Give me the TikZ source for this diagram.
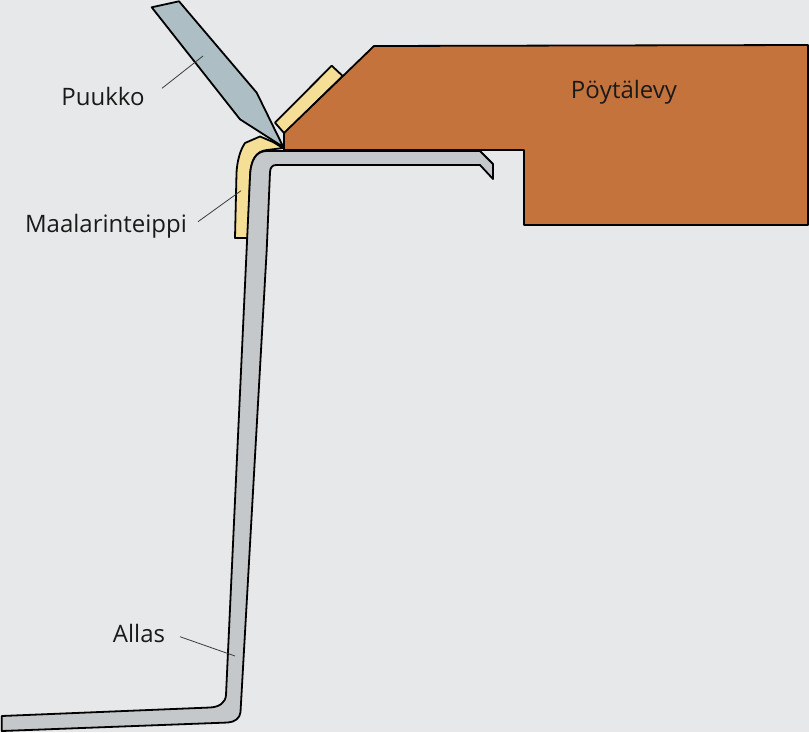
\documentclass[tikz,border=0pt]{standalone}
\usepackage{fontspec}
\setmainfont{Open Sans}
\definecolor{bgc}{HTML}{E6E8EA}
\definecolor{knifec}{HTML}{AEBEC5}
\definecolor{tapec}{HTML}{F5DF96}
\definecolor{woodc}{HTML}{C4733D}
\definecolor{sinkc}{HTML}{C5C8CA}
\definecolor{inkc}{HTML}{1A1A1A}
\tikzset{
  part/.style={draw=black,line width=1.35pt,line join=round},
  leader/.style={draw=inkc!85,line width=0.6pt},
  lab/.style={font=\fontsize{18}{22}\selectfont,text=inkc,inner sep=0pt,anchor=center}
}
\begin{document}
\begin{tikzpicture}[x=0.75pt,y=-0.75pt]
\fill[bgc] (0,0) rectangle (809,732);
\useasboundingbox (0,0) rectangle (809,732);
% left tape
\path[part,fill=tapec] (235,238) -- (248,238) -- (250,177) .. controls (250.5,160) and (256,151) .. (267,150)
  -- (283,148) -- (273,142) -- (260,136.5) -- (245,143) .. controls (240,150) and (237,162) .. (236.5,173) -- cycle;
% sink
\path[part,fill=sinkc] (480,151) -- (267,151) .. controls (256,151) and (250.5,160) .. (250,177)
  -- (226,695) .. controls (225.5,703) and (219,707) .. (210,707.5)
  -- (1.7,716) -- (1.7,731) -- (228,722.5) .. controls (235,722) and (240,718) .. (240.5,712)
  -- (266.7,250) -- (270,172) .. controls (270.3,168) and (272,165) .. (276,165)
  -- (480,165) -- (493,179) -- (493,164) -- cycle;
% upper tape
\path[part,fill=tapec] (275,122.7) -- (331.7,65.7) -- (342.7,76) -- (284.3,133.3) -- cycle;
% counter
\path[part,fill=woodc] (284,150) -- (284,133) -- (374,46) -- (808,45) -- (808,225) -- (524,225) -- (524,150) -- cycle;
% knife
\path[part,fill=knifec] (151.7,7.3) -- (179,1.3) -- (256.7,92.7) -- (283.3,147) -- (240,119.3) -- cycle;
% labels
\node[lab] (puukko) at (103,96) {Puukko};
\node[lab] (maalari) at (106,226) {Maalarinteippi};
\node[lab] (allas) at (139,633) {Allas};
\node[lab] (poyta) at (624,92) {Pöytälevy};
% leaders
\coordinate (pk) at (203,56);
\coordinate (pk0) at (162,88.3);
\coordinate (mt) at (241,190.7);
\coordinate (mt0) at (198,221.7);
\coordinate (al) at (235,656);
\coordinate (al0) at (180,636.7);
\draw[leader] (pk0) -- (pk);
\draw[leader] (mt0) -- (mt);
\draw[leader] (al0) -- (al);
\end{tikzpicture}
\end{document}
